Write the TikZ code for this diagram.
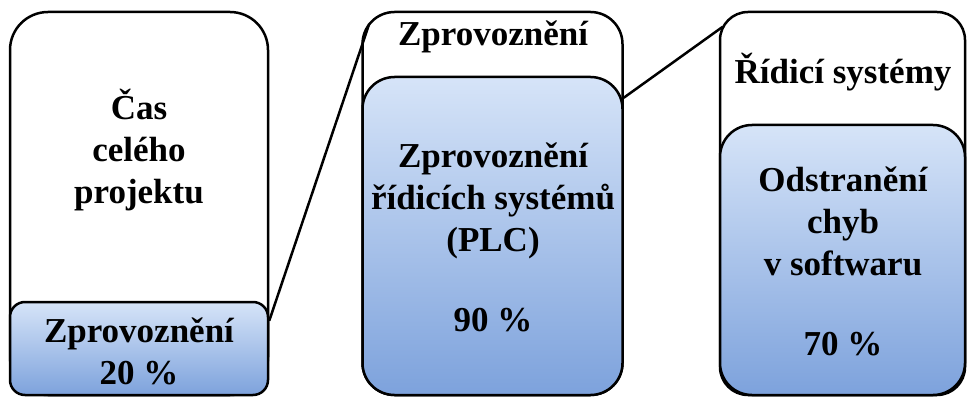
\documentclass[tikz,border=0pt]{standalone}
\usepackage{fontspec}
\setmainfont{Liberation Serif}
\usetikzlibrary{calc}
\definecolor{blueTop}{RGB}{214,228,248}
\definecolor{blueBot}{RGB}{125,162,220}
\tikzset{
  outerbox/.style={draw=black, line width=2.5pt, fill=white, inner sep=0pt},
  innerbox/.style={draw=black, line width=2.5pt, top color=blueTop, bottom color=blueBot, inner sep=0pt},
  lbl/.style={font=\fontsize{35}{42}\selectfont\bfseries, align=center, inner sep=0pt},
  conn/.style={draw=black, line width=2.5pt}
}
\begin{document}
\begin{tikzpicture}[x=1pt,y=-1pt]
\useasboundingbox (0,0) rectangle (968,398);
% box 1
\node[outerbox, rounded corners=38pt, minimum width=258pt, minimum height=383pt] (out1) at (139,203.5) {};
\node[innerbox, rounded corners=15pt, minimum width=258pt, minimum height=93pt] (in1) at (139,348.5) {};
% box 2
\node[outerbox, rounded corners=32pt, minimum width=260pt, minimum height=383pt] (out2) at (492.5,203.5) {};
\node[innerbox, rounded corners=32pt, minimum width=260pt, minimum height=318pt] (in2) at (492.5,236) {};
% box 3
\node[outerbox, rounded corners=28pt, minimum width=245pt, minimum height=383pt] (out3) at (842.5,203.5) {};
\node[innerbox, rounded corners=32pt, minimum width=245pt, minimum height=270pt] (in3) at (842.5,260) {};
% texts
\node[lbl] (t1) at (139,150) {Čas\\celého\\projektu};
\node[lbl] (t1b) at (139,351) {Zprovoznění\\20 \%};
\node[lbl] (t2h) at (493,37) {Zprovoznění};
\node[lbl] (t2) at (493,237) {Zprovoznění\\řídicích systémů\\(PLC)\\[38pt]90 \%};
\node[lbl] (t3h) at (843,72) {Řídicí systémy};
\node[lbl] (t3) at (843,261) {Odstranění\\chyb\\v softwaru\\[38pt]70 \%};
% connectors
\draw[conn] ($(in1.north east)+(0,20)$) -- ($(out2.north west)+(8,13)$);
\draw[conn] ($(in2.north east)+(0,22)$) -- ($(out3.north west)+(4,16)$);
\end{tikzpicture}
\end{document}
